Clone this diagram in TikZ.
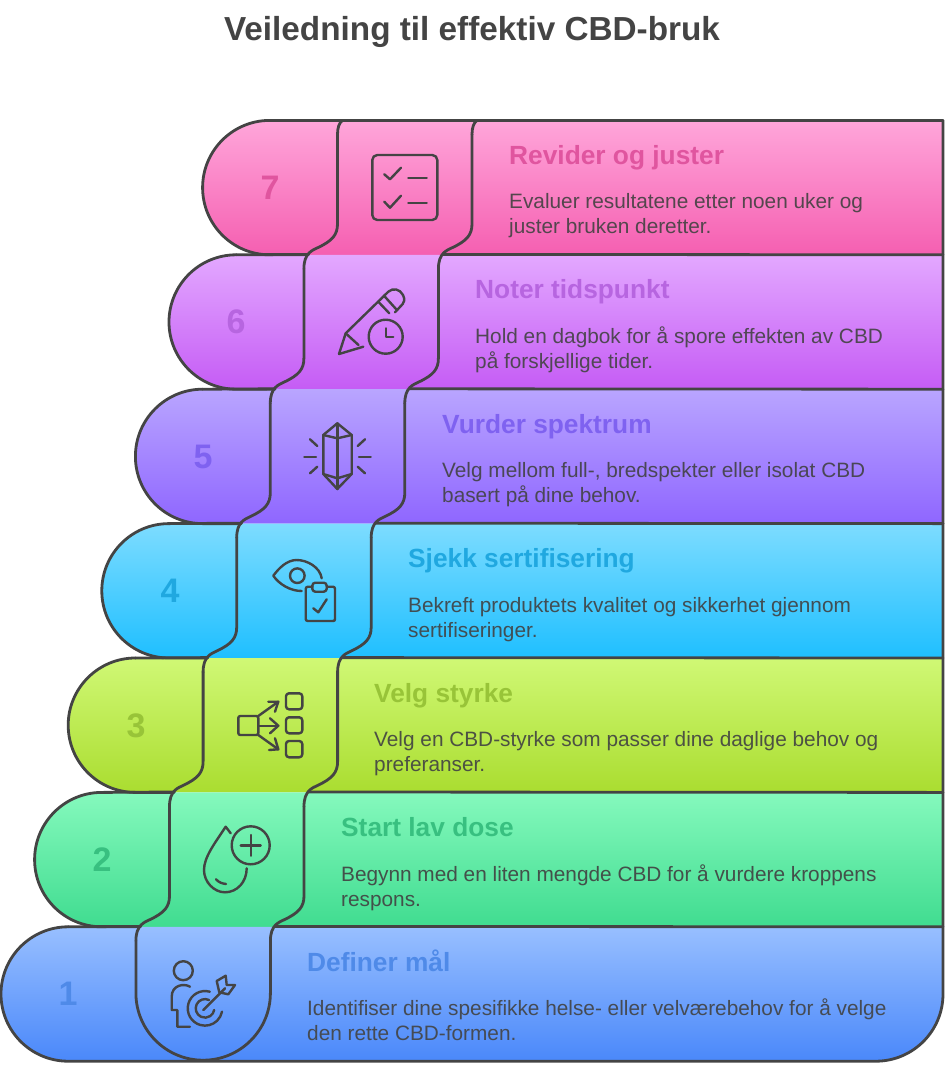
\documentclass[tikz,border=0pt]{standalone}
\usepackage{fontspec}
\setmainfont{Liberation Sans}
\definecolor{ink}{HTML}{444444}
\definecolor{topA}{HTML}{98BFFF}\definecolor{botA}{HTML}{4A88FA}\definecolor{hdA}{HTML}{4F8AE8}
\definecolor{topB}{HTML}{85F9BD}\definecolor{botB}{HTML}{40DC90}\definecolor{hdB}{HTML}{38C080}
\definecolor{topC}{HTML}{D0F875}\definecolor{botC}{HTML}{AADD30}\definecolor{hdC}{HTML}{98C438}
\definecolor{topD}{HTML}{7DDCFF}\definecolor{botD}{HTML}{1FBFFF}\definecolor{hdD}{HTML}{20A8E0}
\definecolor{topE}{HTML}{B9A5FF}\definecolor{botE}{HTML}{8F66FF}\definecolor{hdE}{HTML}{7F62F0}
\definecolor{topF}{HTML}{E3A8FF}\definecolor{botF}{HTML}{C55CF5}\definecolor{hdF}{HTML}{B765E0}
\definecolor{topG}{HTML}{FFA6DA}\definecolor{botG}{HTML}{F55FB1}\definecolor{hdG}{HTML}{E0559F}
\tikzset{
  outline/.style={draw=ink,line width=2.8pt,line join=round,line cap=round},
  glyph/.style={draw=ink,line width=2.4pt,line join=round,line cap=round},
  titletext/.style={anchor=base,inner sep=0pt,text=ink,font=\fontsize{33.3}{38}\selectfont\bfseries},
  headtext/.style={anchor=base west,inner sep=0pt,font=\fontsize{26.3}{30}\selectfont\bfseries},
  bodytext/.style={anchor=base west,inner sep=0pt,align=left,font=\fontsize{20.8}{25}\selectfont},
  numtext/.style={anchor=center,inner sep=0pt,font=\fontsize{34}{38}\selectfont\bfseries},
}
\begin{document}
\begin{tikzpicture}[x=1pt,y=-1pt]
\useasboundingbox (0,0) rectangle (947,1074);
\fill[white] (0,0) rectangle (947,1074);
% row fills, top to bottom
\foreach \n/\c in {7/G,6/F,5/E,4/D,3/C,2/B}{
  \pgfmathsetmacro{\T}{120.4+134.4*(7-\n)}
  \pgfmathsetmacro{\B}{\T+134.4}
  \pgfmathsetmacro{\Lx}{68.2+33.6*(\n-1)}
  \shade[top color=top\c,bottom color=bot\c] (\Lx,\T) -- (943,\T) -- (943,\B) -- (\Lx,\B) arc[start angle=90,end angle=270,radius=67.2] -- cycle;
}
\shade[top color=topA,bottom color=botA] (68.2,926.8) -- (943,926.8) -- (943,994) arc[start angle=0,end angle=90,radius=67.2] -- (68.2,1061.2) arc[start angle=90,end angle=270,radius=67.2] -- cycle;
% outer outlines
\draw[outline] (270,120.4) -- (943,120.4) -- (943,994) arc[start angle=0,end angle=90,radius=67.2] -- (68.2,1061.2) arc[start angle=90,end angle=270,radius=67.2];
\foreach \n in {7,6,5,4,3,2}{
  \pgfmathsetmacro{\T}{120.4+134.4*(7-\n)}
  \pgfmathsetmacro{\B}{\T+134.4}
  \pgfmathsetmacro{\Lx}{68.2+33.6*(\n-1)}
  \pgfmathsetmacro{\Xl}{135.9+33.6*(\n-1)}
  \pgfmathsetmacro{\Xr}{270.4+33.6*(\n-1)}
  \draw[outline] (\Xl-29,\B-0.4) -- (\Lx-33.6,\B);
  \draw[outline] (\Xr-29,\B-0.4) -- (943,\B);
  \draw[outline] (\Lx,\T) arc[start angle=270,end angle=90,radius=67.2] -- (\Xl-29,\B);
  \foreach \X in {\Xl,\Xr}{
    \draw[outline] (\X,\T+14) -- (\X,\B-31) .. controls (\X,\B-20) and (\X-5,\B-14) .. (\X-20,\B-7)
      .. controls (\X-25,\B-4.5) and (\X-33.6,\B-2) .. (\X-33.6,\B+14);
  }
}
% caps at the very top
\draw[outline] (342.5,120.4) .. controls (339,123) and (337.5,128) .. (337.5,134.4);
\draw[outline] (477,120.4) .. controls (473.5,123) and (472,128) .. (472,134.4);
% bottom medallion
\draw[outline] (135.9,940.8) -- (135.9,993) arc[start angle=180,end angle=90,radius=67.2];
\draw[outline] (270.4,940.8) -- (270.4,993) arc[start angle=0,end angle=90,radius=67.2];
% icon 7: checklist
\draw[glyph,rounded corners=5pt] (372.3,155) rectangle (437.3,220);
\draw[glyph] (384.3,174.3) -- (390,179.3) -- (401,167.7);
\draw[glyph] (408.3,177.7) -- (426.7,177.7);
\draw[glyph] (384.3,201.7) -- (390,207.7) -- (401,195.7);
\draw[glyph] (408.3,202.7) -- (426.7,202.7);
% icon 6: pencil and clock
\draw[glyph] (385.7,336.7) circle[radius=17];
\draw[glyph] (385.7,328.3) -- (385.7,336.7) -- (393.3,336.7);
\draw[glyph] (345.7,333.3) -- (339,354) -- (363.3,346.7);
\draw[glyph] (345.7,333.3) -- (388.3,291.7) .. controls (393,287.5) and (400,289) .. (403,295) .. controls (405,299.5) and (404.5,302) .. (402.7,304) -- (395,312.3);
\draw[glyph] (378.3,301.7) -- (389.3,313.3);
\draw[glyph] (384,295.7) -- (396,309);
\draw[glyph] (345.7,333.3) -- (358.5,345);
% icon 5: crystal
\draw[glyph] (337.3,423.3) -- (351.7,435) -- (351.7,474) -- (337.3,489) -- (323.3,474) -- (323.3,435) -- cycle;
\draw[glyph] (337.3,423.3) -- (337.3,489);
\draw[glyph] (323.3,435) -- (337.3,438.3) -- (351.7,435);
\draw[glyph] (323.3,474) -- (337.3,478.3) -- (351.7,474);
\draw[glyph] (304.3,456.7) -- (316,456.7);
\draw[glyph] (359,456.7) -- (370.7,456.7);
\draw[glyph] (310,439.3) -- (317.3,446);
\draw[glyph] (365,439.3) -- (357.7,446);
\draw[glyph] (310,473.3) -- (317.3,466.7);
\draw[glyph] (365,473.3) -- (357.7,466.7);
% icon 4: eye and clipboard
\draw[glyph] (321.7,578.3) .. controls (320,567) and (307,560) .. (296.7,560) .. controls (287,560) and (279,568) .. (273.3,575.7) .. controls (279,584) and (290,591) .. (301.7,591);
\draw[glyph] (297.3,575.7) circle[radius=7.3];
\draw[glyph] (312.3,586.7) -- (308,586.7) .. controls (306.5,586.7) and (305.7,587.5) .. (305.7,589) -- (305.7,619) .. controls (305.7,620.3) and (306.5,621) .. (308,621) -- (333,621) .. controls (334.3,621) and (335,620.3) .. (335,619) -- (335,589) .. controls (335,587.5) and (334.3,586.7) .. (333,586.7) -- (326.7,586.7);
\draw[glyph,rounded corners=3pt] (312.3,582.7) rectangle (326.7,591.7);
\draw[glyph] (313.3,608.3) -- (318.3,612.3) -- (326.7,599.3);
% icon 3: branching arrows
\draw[glyph,rounded corners=2pt] (238.3,716) rectangle (258.3,735);
\draw[glyph,rounded corners=3pt] (286,693.3) rectangle (302.3,709.3);
\draw[glyph,rounded corners=3pt] (286,717.3) rectangle (302.3,733.3);
\draw[glyph,rounded corners=3pt] (286,741) rectangle (302.3,757.3);
\draw[glyph] (258.3,716) -- (278.3,701.7);
\draw[glyph] (268.3,701.7) -- (278.3,701.7) -- (275,711.7);
\draw[glyph] (258.3,725.7) -- (278.3,725.7);
\draw[glyph] (270,718.3) -- (278.3,725.7) -- (270,733.3);
\draw[glyph] (258.3,735) -- (278.3,749.3);
\draw[glyph] (269,750) -- (278.3,749.3) -- (275,738.3);
% icon 2: drop and plus
\draw[glyph] (250.7,845.3) circle[radius=19];
\draw[glyph] (240.7,845.3) -- (260.7,845.3);
\draw[glyph] (250.7,835) -- (250.7,855.7);
\draw[glyph] (230.7,833.3) -- (225.7,826.7) .. controls (215,843) and (204,857) .. (204,870) .. controls (204,882) and (214,892.3) .. (225,892.3) .. controls (237,892.3) and (246.7,882) .. (246.7,868.3);
\draw[glyph] (216,879.3) .. controls (219,882.5) and (222,883.5) .. (226,884);
% icon 1: person and target
\draw[glyph] (183.3,970.7) circle[radius=9.5];
\draw[glyph] (190,986.7) .. controls (184,983) and (171.7,985) .. (171.7,996.7) -- (171.7,1010) -- (177.3,1010) -- (177.3,1026.7) -- (190,1026.7);
\draw[glyph] (209.8,991.7) arc[start angle=-74,end angle=-349,radius=17.3];
\draw[glyph] (209.1,1000) arc[start angle=-64,end angle=-350,radius=9.3];
\draw[glyph] (203.3,1010) -- (225,988.3);
\draw[glyph] (216.7,981) -- (225.7,975.7) -- (226.7,985) -- (235,985) -- (228.3,994.3) -- (219.3,992.3) -- cycle;
% texts
\node[titletext] (title) at (472,40.5) {Veiledning til effektiv CBD-bruk};
\node[numtext,text=hdG] (n7) at (270,188) {7};
\node[numtext,text=hdF] (n6) at (236,322) {6};
\node[numtext,text=hdE] (n5) at (203,457) {5};
\node[numtext,text=hdD] (n4) at (170,591) {4};
\node[numtext,text=hdC] (n3) at (136,726) {3};
\node[numtext,text=hdB] (n2) at (102,860) {2};
\node[numtext,text=hdA] (n1) at (68,994) {1};
\node[headtext,text=hdG] (h7) at (509,164) {Revider og juster};
\node[headtext,text=hdF] (h6) at (475,298) {Noter tidspunkt};
\node[headtext,text=hdE] (h5) at (442,433) {Vurder spektrum};
\node[headtext,text=hdD] (h4) at (408,567) {Sjekk sertifisering};
\node[headtext,text=hdC] (h3) at (374,702) {Velg styrke};
\node[headtext,text=hdB] (h2) at (341,836) {Start lav dose};
\node[headtext,text=hdA] (h1) at (307,971) {Definer mål};
\node[bodytext,text=ink!90!hdG] (b7) at (509,233) {Evaluer resultatene etter noen uker og\\juster bruken deretter.};
\node[bodytext,text=ink!90!hdF] (b6) at (475,368) {Hold en dagbok for å spore effekten av CBD\\på forskjellige tider.};
\node[bodytext,text=ink!90!hdE] (b5) at (442,502) {Velg mellom full-, bredspekter eller isolat CBD\\basert på dine behov.};
\node[bodytext,text=ink!90!hdD] (b4) at (408,637) {Bekreft produktets kvalitet og sikkerhet gjennom\\sertifiseringer.};
\node[bodytext,text=ink!90!hdC] (b3) at (374,771) {Velg en CBD-styrke som passer dine daglige behov og\\preferanser.};
\node[bodytext,text=ink!90!hdB] (b2) at (341,906) {Begynn med en liten mengde CBD for å vurdere kroppens\\respons.};
\node[bodytext,text=ink!90!hdA] (b1) at (307,1040) {Identifiser dine spesifikke helse- eller velværebehov for å velge\\den rette CBD-formen.};
\end{tikzpicture}
\end{document}
